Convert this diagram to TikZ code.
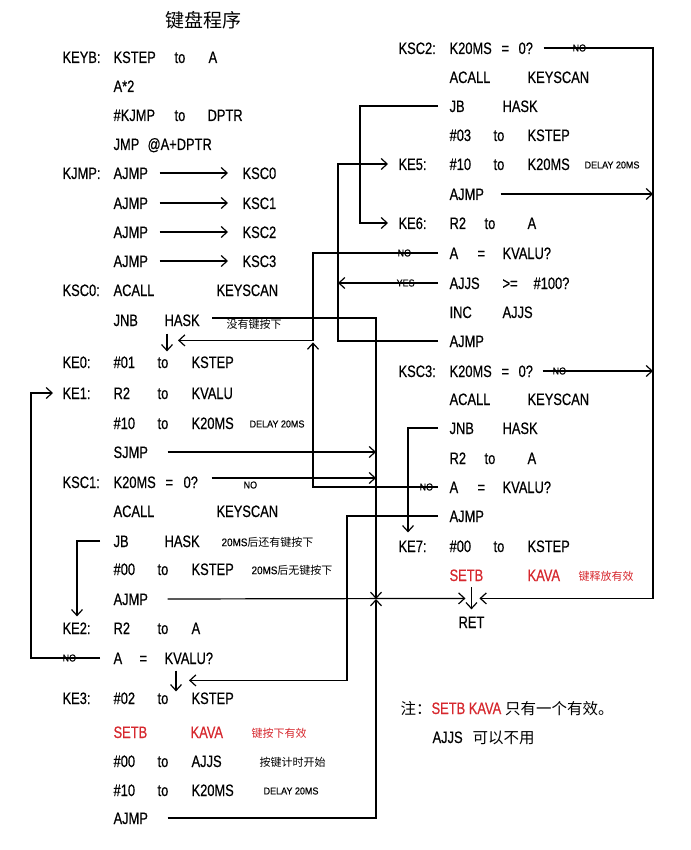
\documentclass[tikz,border=0pt]{standalone}
\usepackage{fontspec}
\setmainfont{Liberation Sans}[FakeStretch=0.78,FakeBold=0.5]
\newfontfamily\smallfont{Liberation Sans}[FakeStretch=0.9,FakeBold=0.4]
\newfontfamily\cjk{Noto Sans CJK SC}
\usetikzlibrary{arrows.meta}
\definecolor{keyred}{RGB}{214,40,46}
\newcommand{\fw}[2]{\makebox[#1pt][l]{#2}}
\begin{document}
\begin{tikzpicture}[x=1pt,y=-1pt,line width=1.2pt,
  txt/.style={anchor=west,inner sep=0pt,text height=12pt,text depth=0pt,font=\fontsize{16.5}{18}\selectfont},
  cmt/.style={anchor=west,inner sep=0pt,font=\smallfont\fontsize{10}{12}\selectfont},
  zh/.style={anchor=west,inner sep=0pt,font=\cjk\fontsize{11}{12}\selectfont},
  flag/.style={anchor=west,inner sep=0pt,font=\smallfont\fontsize{10}{10}\selectfont},
  arr/.style={-{Straight Barb[length=6pt,width=11pt]}}]
  \useasboundingbox (0,0) rectangle (690,850);
  \node[zh,font=\cjk\fontsize{19}{20}\selectfont] (title) at (165,20) {键盘程序};
  % left column
  \node[txt] (keybl) at (62,57) {KEYB:};
  \node[txt] (keyb) at (113,57) {\fw{61}{KSTEP}\fw{34}{to}A};
  \node[txt] (a2) at (113,86) {A*2};
  \node[txt] (dptr) at (113,115) {\fw{61}{\#KJMP}\fw{33}{to}DPTR};
  \node[txt] (jmp) at (113,144) {\fw{34}{JMP}@A+DPTR};
  \node[txt] (kjmpl) at (62,173) {KJMP:};
  \node[txt] (aj0) at (113,173) {AJMP};
  \node[txt] (aj1) at (113,203) {AJMP};
  \node[txt] (aj2) at (113,232) {AJMP};
  \node[txt] (aj3) at (113,261) {AJMP};
  \node[txt] (t0) at (242,173) {KSC0};
  \node[txt] (t1) at (242,203) {KSC1};
  \node[txt] (t2) at (242,232) {KSC2};
  \node[txt] (t3) at (242,261) {KSC3};
  \node[txt] (ksc0l) at (62,290) {KSC0:};
  \node[txt] (acall0) at (113,290) {\fw{103}{ACALL}KEYSCAN};
  \node[txt] (jnb0) at (113,320) {\fw{51}{JNB}HASK};
  \node[zh] (jnb0c) at (226,324) {没有键按下};
  \node[txt] (ke0l) at (62,362) {KE0:};
  \node[txt] (ke0) at (113,362) {\fw{44}{\#01}\fw{34}{to}KSTEP};
  \node[txt] (ke1l) at (62,393) {KE1:};
  \node[txt] (ke1) at (113,393) {\fw{44}{R2}\fw{34}{to}KVALU};
  \node[txt] (dly1i) at (113,423) {\fw{44}{\#10}\fw{34}{to}K20MS};
  \node[cmt] (dly1) at (249,424) {DELAY 20MS};
  \node[txt] (sjmp) at (113,452) {SJMP};
  \node[txt] (ksc1l) at (62,482) {KSC1:};
  \node[txt] (ksc1) at (113,482) {\fw{52}{K20MS}\fw{18}{=}0?};
  \node[cmt] (no1) at (243,485) {NO};
  \node[txt] (acall1) at (113,511) {\fw{103}{ACALL}KEYSCAN};
  \node[txt] (jb1) at (113,541) {\fw{51}{JB}HASK};
  \node[zh] (jb1c) at (221,542) {{\smallfont 20MS}后还有键按下};
  \node[txt] (st1) at (113,569) {\fw{44}{\#00}\fw{34}{to}KSTEP};
  \node[zh] (st1c) at (251,570) {{\smallfont 20MS}后无键按下};
  \node[txt] (ajmp1) at (113,599) {AJMP};
  \node[txt] (ke2l) at (62,628) {KE2:};
  \node[txt] (ke2) at (113,628) {\fw{44}{R2}\fw{34}{to}A};
  \node[txt] (cmp2) at (113,658) {\fw{26}{A}\fw{25}{=}KVALU?};
  \node[flag] (no2) at (62,658) {NO};
  \node[txt] (ke3l) at (62,698) {KE3:};
  \node[txt] (ke3) at (113,698) {\fw{44}{\#02}\fw{34}{to}KSTEP};
  \node[txt,keyred] (setb3) at (113,732) {\fw{77}{SETB}KAVA};
  \node[zh,keyred] (setb3c) at (251,733) {键按下有效};
  \node[txt] (ajjs3) at (113,761) {\fw{44}{\#00}\fw{34}{to}AJJS};
  \node[zh] (ajjs3c) at (259,762) {按键计时开始};
  \node[txt] (k20ms3) at (113,790) {\fw{44}{\#10}\fw{34}{to}K20MS};
  \node[cmt] (dly3) at (263,791) {DELAY 20MS};
  \node[txt] (ajmp3) at (113,818) {AJMP};
  % right column
  \node[txt] (ksc2l) at (398,48) {KSC2:};
  \node[txt] (ksc2) at (449,48) {\fw{52}{K20MS}\fw{17}{=}0?};
  \node[flag] (no5) at (572,48) {NO};
  \node[txt] (acall2) at (449,77) {\fw{78}{ACALL}KEYSCAN};
  \node[txt] (jb2) at (449,106) {\fw{53}{JB}HASK};
  \node[txt] (st2) at (449,135) {\fw{44}{\#03}\fw{34}{to}KSTEP};
  \node[txt] (ke5l) at (398,164) {KE5:};
  \node[txt] (ke5) at (449,164) {\fw{44}{\#10}\fw{34}{to}K20MS};
  \node[cmt] (dly5) at (584,165) {DELAY 20MS};
  \node[txt] (ajmp5) at (449,194) {AJMP};
  \node[txt] (ke6l) at (398,223) {KE6:};
  \node[txt] (ke6) at (449,223) {\fw{35}{R2}\fw{43}{to}A};
  \node[txt] (cmp6) at (449,253) {\fw{28}{A}\fw{25}{=}KVALU?};
  \node[flag] (no6) at (397,253) {NO};
  \node[txt] (ajjs6) at (449,283) {\fw{53}{AJJS}\fw{31}{>=}\#100?};
  \node[flag] (yes6) at (396,283) {YES};
  \node[txt] (inc6) at (449,312) {\fw{53}{INC}AJJS};
  \node[txt] (ajmp6) at (449,341) {AJMP};
  \node[txt] (ksc3l) at (398,371) {KSC3:};
  \node[txt] (ksc3) at (449,371) {\fw{52}{K20MS}\fw{17}{=}0?};
  \node[flag] (no7) at (552,371) {NO};
  \node[txt] (acall3) at (449,399) {\fw{78}{ACALL}KEYSCAN};
  \node[txt] (jnb3) at (449,428) {\fw{53}{JNB}HASK};
  \node[txt] (r23) at (449,458) {\fw{35}{R2}\fw{43}{to}A};
  \node[txt] (cmp3) at (449,487) {\fw{28}{A}\fw{25}{=}KVALU?};
  \node[flag] (no3) at (419,487) {NO};
  \node[txt] (ajmp7) at (449,516) {AJMP};
  \node[txt] (ke7l) at (398,546) {KE7:};
  \node[txt] (ke7) at (449,546) {\fw{44}{\#00}\fw{34}{to}KSTEP};
  \node[txt,keyred] (setb7) at (449,575) {\fw{78}{SETB}KAVA};
  \node[zh,keyred] (setb7c) at (578,576) {键释放有效};
  \node[txt] (ret) at (458,622) {RET};
  % note
  \node[txt] (note1) at (400,708) {{\cjk\fontsize{15.5}{18}\selectfont 注：}\textcolor{keyred}{SETB KAVA}\hspace{4pt}{\cjk\fontsize{15.5}{18}\selectfont 只有一个有效。}};
  \node[txt] (note2) at (432,737) {AJJS\hspace{10pt}{\cjk\fontsize{15.5}{18}\selectfont 可以不用}};
  % bus lines
  \coordinate (xL) at (31,0);
  \coordinate (xF) at (77,0);
  \coordinate (xB) at (313,0);
  \coordinate (xC) at (338,0);
  \coordinate (xE) at (347,0);
  \coordinate (xD) at (360,0);
  \coordinate (xA) at (376,0);
  \coordinate (xG) at (408,0);
  \coordinate (xR) at (653,0);
  \coordinate (ke0in) at ([xshift=65pt,yshift=15pt]ke0.north west);
  \coordinate (ke3in) at ([xshift=76pt,yshift=11pt]ke3.north west);
  \coordinate (retin) at ([yshift=17pt]ret.north);
  % connectors
  \foreach \i in {0,...,3}
    \draw[arr] ([xshift=11pt]aj\i.east) -- ([xshift=-14pt]t\i.west);
  \draw[arr] ([xshift=12pt,yshift=2pt]jnb0.east) -- ([yshift=2pt]xA |- jnb0.east) -- (xA |- ajmp1.east);
  \draw[arr] ([xshift=54pt,yshift=-7pt]jnb0.south west) -- ([xshift=54pt,yshift=4pt]ke0.north west);
  \draw[arr] ([xshift=-11pt]cmp6.west) -| (xB |- ke0in) -- (ke0in);
  \draw[arr] ([xshift=-11pt]cmp3.west) -| ([yshift=-2pt]xB |- ke0in);
  \draw[arr] ([xshift=-13pt]cmp2.west) -| (xL |- ke1l.west) -- ([xshift=-9pt]ke1l.west);
  \draw[arr] ([xshift=19pt]sjmp.east) -- (xA |- sjmp.east);
  \draw[arr] ([xshift=13pt,yshift=4pt]ksc1.east) -- ([yshift=4pt]xA |- ksc1.east);
  \draw[arr] ([xshift=-13pt]jb1.west) -| ([yshift=5pt]xF |- ke2l.north);
  \draw[arr] ([xshift=19pt]ajmp1.east) -- ([xshift=-6pt]retin);
  \draw[arr] ([xshift=19pt]ajmp3.east) -- (xA |- ajmp3.east) -- (xA |- ajmp1.east);
  \draw[arr] ([xshift=63pt,yshift=-6pt]cmp2.south west) -- ([xshift=63pt]ke3.north west);
  \draw[arr] ([xshift=-11pt]ajmp7.west) -| (xE |- ke3in) -- (ke3in);
  \draw[arr] ([xshift=10pt]ksc2.east) -- (xR |- ksc2.east) -- (xR |- retin) -- ([xshift=8pt]retin);
  \draw[arr] ([yshift=11pt]retin) -- ([yshift=-11pt]retin);
  \draw[arr] ([xshift=-11pt]jb2.west) -| (xD |- ke6l.west) -- ([xshift=-10pt]ke6l.west);
  \draw[arr] ([xshift=-11pt]ajmp6.west) -| (xC |- ke5l.west) -- ([xshift=-10pt]ke5l.west);
  \draw[arr] ([xshift=-11pt]ajjs6.west) -- (xC |- ajjs6.west);
  \draw[arr] ([xshift=16pt]ajmp5.east) -- (xR |- ajmp5.east);
  \draw[arr] ([xshift=9pt]ksc3.east) -- (xR |- ksc3.east);
  \draw[arr] ([xshift=-11pt]jnb3.west) -| ([yshift=7pt]xG |- ke7l.north);
\end{tikzpicture}
\end{document}
